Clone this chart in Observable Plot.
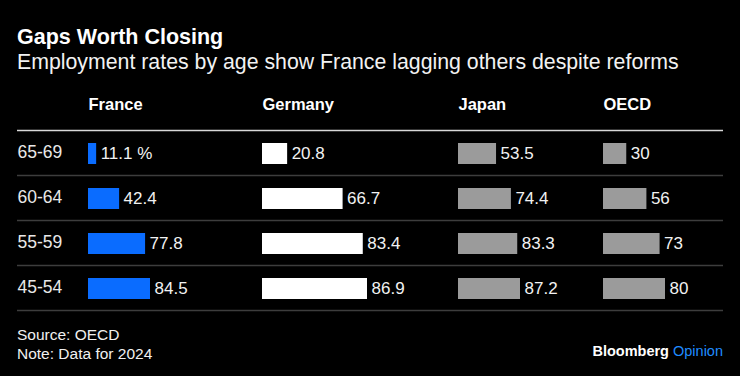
<!DOCTYPE html>
<html>
<head>
<meta charset="utf-8">
<script src="https://cdn.jsdelivr.net/npm/d3@7"></script>
<script src="https://cdn.jsdelivr.net/npm/@observablehq/plot@0.6"></script>
<style>
  html, body { margin: 0; padding: 0; background: #000; }
  #chart { position: relative; width: 740px; height: 376px; background: #000; color: #fff;
           font-family: "Liberation Sans", Arial, sans-serif; overflow: hidden; }
  .t { position: absolute; line-height: 1; white-space: nowrap; }
  #title { left: 17px; top: 27px; font-size: 21.5px; font-weight: bold; }
  #subtitle { left: 17px; top: 52px; font-size: 21.3px; color: #f2f2f2; }
  #plots { position: absolute; left: 0; top: 80px; width: 740px; height: 240px; }
  #plots svg { position: absolute; top: 0; }
  #source { left: 17px; top: 325px; font-size: 15.5px; color: #f0f0f0; line-height: 19px; }
  #brand { right: 17px; top: 344px; font-size: 14.5px; font-weight: bold; }
  #brand span { color: #1f8bff; font-weight: normal; }
</style>
</head>
<body>
<div id="chart">
  <div class="t" id="title">Gaps Worth Closing</div>
  <div class="t" id="subtitle">Employment rates by age show France lagging others despite reforms</div>
  <div id="plots"></div>
  <div class="t" id="source">Source: OECD<br>Note: Data for 2024</div>
  <div class="t" id="brand">Bloomberg <span>Opinion</span></div>
</div>
<script>
// ---- data ----
const ages = ["65-69", "60-64", "55-59", "45-54"];
const countries = ["France", "Germany", "Japan", "OECD"];
const france = [11.1, 42.4, 77.8, 84.5];
const germany = [20.8, 66.7, 83.4, 86.9];
const japan = [53.5, 74.4, 83.3, 87.2];
const oecd = [30, 56, 73, 80];
const unit = " %";

// ---- layout / style ----
const series = [france, germany, japan, oecd];
const colors = ["#0a6cff", "#ffffff", "#9b9b9b", "#9b9b9b"];
const colLeft = [88, 262, 458, 603];
const colRight = [262, 458, 603, 723];
const barMax = [62, 105, 62, 62];
const H = 240, mTop = 50, mBottom = 10;

const container = document.getElementById("plots");

// background: rules + row labels
const bg = Plot.plot({
  width: 740, height: H, marginTop: mTop, marginBottom: mBottom, marginLeft: 17, marginRight: 17,
  x: {domain: [0, 1], axis: null},
  y: {domain: [0, ages.length], range: [mTop, H - mBottom], axis: null},
  style: {background: "transparent", fontFamily: "Liberation Sans, Arial, sans-serif"},
  marks: [
    Plot.ruleY(d3.range(1, ages.length + 1), {stroke: "#3d3d3d", strokeWidth: 1.5}),
    Plot.ruleY([0], {stroke: "#d8d8d8", strokeWidth: 1.5}),
    Plot.text(ages, {x: 0, y: (d, i) => i + 0.5, text: d => d, textAnchor: "start",
      fill: "#e8e8e8", fontSize: 17.5, dy: -1})
  ]
});
bg.style.left = "0px";
container.appendChild(bg);

countries.forEach((name, c) => {
  const vals = series[c];
  const rows = ages.map((a, i) => ({
    age: a, value: vals[i],
    label: (c === 0 && i === 0) ? vals[i] + unit : String(vals[i])
  }));
  const w = colRight[c] - colLeft[c];
  const p = Plot.plot({
    width: w, height: H, marginTop: mTop, marginBottom: mBottom, marginLeft: 0, marginRight: 0,
    x: {domain: [0, d3.max(vals)], range: [0, barMax[c]], axis: null},
    y: {domain: ages, padding: 0, axis: null},
    style: {background: "transparent", overflow: "visible", fontFamily: "Liberation Sans, Arial, sans-serif"},
    marks: [
      Plot.barX(rows, {x: "value", y: "age", fill: colors[c], insetTop: 13, insetBottom: 11}),
      Plot.text(rows, {x: "value", y: "age", text: "label", textAnchor: "start", dx: 4, dy: 1,
        fill: "#f2f2f2", fontSize: 17}),
      Plot.text([name], {frameAnchor: "top-left", text: d => d, lineAnchor: "middle", dy: -26,
        fill: "#ffffff", fontSize: 16.5, fontWeight: "bold"})
    ]
  });
  p.style.left = colLeft[c] + "px";
  container.appendChild(p);
});
</script>
</body>
</html>
